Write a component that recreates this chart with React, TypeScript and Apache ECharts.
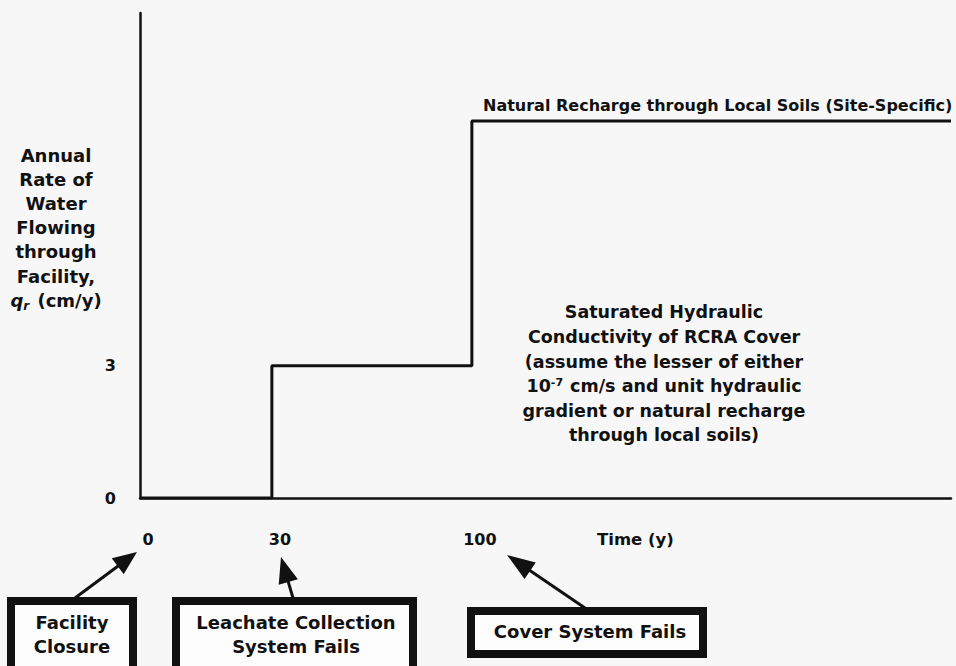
import React, { useEffect, useRef } from 'react';
import * as echarts from 'echarts';

// ---- data ----
const stepYears = [0, 30, 100];          // facility closure, leachate collection fails, cover fails
const xTickLabels = ['0', '30', '100'];
const timeEnd = 209;                      // right end of the (schematic) time axis
const flowRates = [0, 3, 8.55];           // q_r after each event (cm/y); last = natural recharge (site-specific)
const yTickValues = [0, 3];
const yMax = 11;
// the schematic time axis is not to scale between 30 and 100 y
const timeBreak = { start: 40, end: 90, gap: 25.5 };

const yNameLines = ['Annual', 'Rate of', 'Water', 'Flowing', 'through', 'Facility,', '{q|q}{r|r} (cm/y)'];
const naturalLabel = 'Natural Recharge through Local Soils (Site-Specific)';
const coverLines = [
  'Saturated Hydraulic',
  'Conductivity of RCRA Cover',
  '(assume the lesser of either',
  '10{sup|-7} cm/s and unit hydraulic',
  'gradient or natural recharge',
  'through local soils)',
];

const FONT = '"DejaVu Sans", "Liberation Sans", Arial, sans-serif';
const INK = '#111111';

function arrow(x1: number, y1: number, x2: number, y2: number, len = 24, half = 9) {
  const dx = x2 - x1, dy = y2 - y1;
  const d = Math.hypot(dx, dy);
  const ux = dx / d, uy = dy / d;
  const bx = x2 - ux * len, by = y2 - uy * len;
  const px = -uy, py = ux;
  return [
    { type: 'line', z: 20, shape: { x1, y1, x2: bx + ux * 3, y2: by + uy * 3 }, style: { stroke: INK, lineWidth: 3 } },
    {
      type: 'polygon', z: 20,
      shape: { points: [[x2, y2], [bx + px * half, by + py * half], [bx - px * half, by - py * half]] },
      style: { fill: INK },
    },
  ];
}

function txt(x: number, y: number, text: string, size: number, align: string, vAlign: string, extra: any = {}) {
  return {
    type: 'text', z: 30, x, y,
    style: {
      text, fill: INK, fontFamily: FONT, fontWeight: 'bold', fontSize: size,
      textAlign: align, textVerticalAlign: vAlign, align, verticalAlign: vAlign, ...extra,
    },
  };
}

function box(x: number, y: number, w: number, h: number) {
  const lw = 8;
  return {
    type: 'rect', z: 15,
    shape: { x: x + lw / 2, y: y + lw / 2, width: w - lw, height: h - lw },
    style: { fill: '#fdfdfd', stroke: INK, lineWidth: lw },
  };
}

export default function App() {
  const ref = useRef<HTMLDivElement>(null);

  useEffect(() => {
    document.body.style.margin = '0';
    document.body.style.background = '#f7f7f7';
    if (!ref.current) return;
    const chart = echarts.init(ref.current, undefined, { renderer: 'svg' });

    const seriesData = stepYears.map((t, i) => [t, flowRates[i]]);
    seriesData.push([timeEnd, flowRates[flowRates.length - 1]]);

    const option: any = {
      animation: false,
      backgroundColor: '#f7f7f7',
      grid: { left: 140, right: 5, top: 13, bottom: 168 },
      xAxis: [
        {
          type: 'value',
          position: 'bottom',
          min: 0,
          max: timeEnd,
          breaks: [timeBreak],
          breakArea: { show: false },
          axisLine: { show: false },
          axisTick: { show: false },
          splitLine: { show: false },
          axisLabel: {
            customValues: stepYears,
            formatter: (v: number) => xTickLabels[stepYears.indexOf(v)] ?? '',
            color: INK, fontFamily: FONT, fontWeight: 'bold', fontSize: 16,
            margin: 33, padding: [0, 0, 0, 16],
          },
        },
        {
          // continuous axis line (the break above leaves a gap in its own line)
          type: 'value',
          position: 'bottom',
          min: 0,
          max: timeEnd,
          axisLine: { show: true, onZero: false, lineStyle: { color: INK, width: 2.5 } },
          axisTick: { show: false },
          axisLabel: { show: false },
          splitLine: { show: false },
        },
      ],
      yAxis: {
        type: 'value',
        min: 0,
        max: yMax,
        axisLine: { show: true, lineStyle: { color: INK, width: 2.5 } },
        axisTick: { show: false },
        splitLine: { show: false },
        axisLabel: {
          customValues: yTickValues,
          color: INK, fontFamily: FONT, fontWeight: 'bold', fontSize: 16, margin: 24,
        },
      },
      series: [
        {
          type: 'line',
          step: 'end',
          xAxisIndex: 0,
          data: seriesData,
          symbol: 'none',
          lineStyle: { color: INK, width: 3 },
          z: 5,
        },
      ],
      graphic: [
        // y-axis title
        txt(56, 143, yNameLines.join('\n'), 18, 'center', 'top', {
          lineHeight: 24.2,
          rich: {
            q: { fontStyle: 'italic', fontWeight: 'bold', fontSize: 18, fontFamily: FONT, fill: INK, lineHeight: 24.2 },
            r: { fontStyle: 'italic', fontWeight: 'bold', fontSize: 12, fontFamily: FONT, fill: INK, verticalAlign: 'bottom', lineHeight: 24.2, padding: [0, 2, 0, 0] },
          },
        }),
        // x-axis title
        txt(597, 539, 'Time (y)', 16.5, 'left', 'middle'),
        // natural recharge label
        txt(483, 105, naturalLabel, 16, 'left', 'middle'),
        // cover conductivity note
        txt(664, 300, coverLines.join('\n'), 17.5, 'center', 'top', {
          lineHeight: 24.6,
          rich: {
            sup: { fontSize: 11, fontWeight: 'bold', fontFamily: FONT, fill: INK, verticalAlign: 'top', padding: [3, 1, 0, 0], lineHeight: 24.6 },
          },
        }),
        // event boxes
        box(7, 597, 130, 100),
        txt(72, 610, 'Facility\nClosure', 18, 'center', 'top', { lineHeight: 24 }),
        box(172, 597, 245, 100),
        txt(296, 610, 'Leachate Collection\nSystem Fails', 18, 'center', 'top', { lineHeight: 24 }),
        box(467, 607, 240, 51),
        txt(590, 631, 'Cover System Fails', 18, 'center', 'middle'),
        // arrows
        ...arrow(75, 598, 137, 552, 24, 10),
        ...arrow(293, 598, 281, 557, 26, 10),
        ...arrow(585, 608, 507, 555, 28, 10),
      ],
    };

    chart.setOption(option);
    return () => chart.dispose();
  }, []);

  return <div ref={ref} style={{ width: 956, height: 666 }} />;
}
